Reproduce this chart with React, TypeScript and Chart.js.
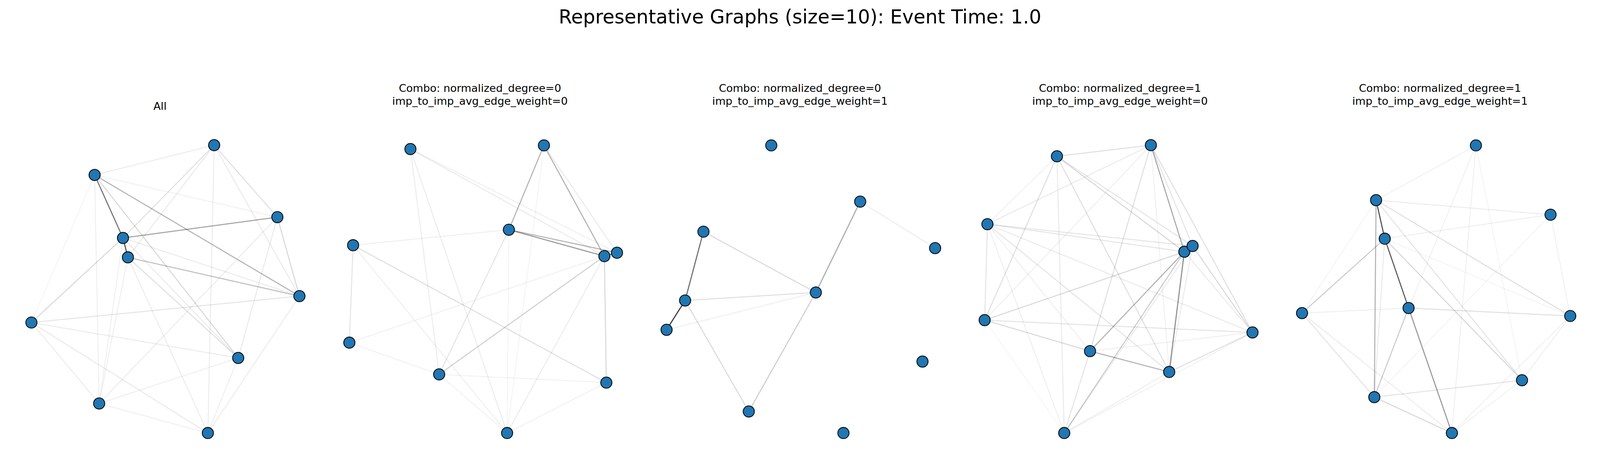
import { useRef, useEffect } from 'react';
import { Chart, registerables } from 'chart.js';

Chart.register(...registerables);

const suptitle = 'Representative Graphs (size=10): Event Time: 1.0';

const panelTitles = [
    ['All'],
    ['Combo: normalized_degree=0', 'imp_to_imp_avg_edge_weight=0'],
    ['Combo: normalized_degree=0', 'imp_to_imp_avg_edge_weight=1'],
    ['Combo: normalized_degree=1', 'imp_to_imp_avg_edge_weight=0'],
    ['Combo: normalized_degree=1', 'imp_to_imp_avg_edge_weight=1'],
];

// node positions (layout units), nodes A..J
const nodes1 = [[1055, 250], [448, 373], [1376, 547], [592, 633], [617, 713], [1488, 873], [127, 982], [1177, 1128], [471, 1316], [1023, 1438]];
const nodes2 = [[427, 266], [1105, 251], [927, 599], [136, 663], [1412, 708], [1476, 694], [117, 1065], [573, 1196], [1422, 1230], [918, 1438]];
const nodes3 = [[634, 251], [1085, 483], [290, 607], [1465, 675], [860, 858], [197, 891], [103, 1012], [1401, 1143], [520, 1349], [1000, 1438]];
const nodes4 = [[459, 296], [936, 250], [106, 576], [1106, 690], [1148, 666], [92, 972], [627, 1100], [1029, 1186], [1452, 1023], [496, 1438]];
const nodes5 = [[962, 251], [455, 477], [1341, 537], [499, 636], [620, 922], [79, 943], [1441, 955], [1196, 1220], [446, 1290], [840, 1438]];

// edges: [from, to, weight(alpha)]
const edges1: [string, string, number][] = [
    ['B', 'D', 0.55], ['D', 'E', 0.7], ['D', 'C', 0.35], ['B', 'F', 0.3], ['E', 'F', 0.25],
    ['A', 'B', 0.07], ['A', 'D', 0.12], ['A', 'E', 0.08], ['A', 'C', 0.12], ['A', 'F', 0.08],
    ['A', 'J', 0.07], ['D', 'G', 0.15], ['G', 'F', 0.1], ['G', 'H', 0.08], ['G', 'I', 0.07],
    ['G', 'J', 0.08], ['B', 'H', 0.15], ['E', 'H', 0.12], ['D', 'H', 0.08], ['B', 'I', 0.06],
    ['D', 'I', 0.06], ['E', 'I', 0.06], ['C', 'F', 0.15], ['C', 'I', 0.07], ['C', 'H', 0.08],
    ['F', 'J', 0.07], ['H', 'J', 0.06], ['I', 'J', 0.06], ['I', 'H', 0.06], ['E', 'J', 0.07],
    ['D', 'F', 0.07], ['B', 'C', 0.05], ['G', 'B', 0.04],
];
const edges2: [string, string, number][] = [
    ['C', 'E', 0.4], ['C', 'F', 0.3], ['B', 'C', 0.3], ['B', 'E', 0.3], ['B', 'F', 0.08],
    ['E', 'F', 0.6], ['E', 'H', 0.18], ['E', 'I', 0.15], ['C', 'H', 0.1], ['D', 'C', 0.06],
    ['D', 'I', 0.12], ['D', 'G', 0.1], ['D', 'J', 0.06], ['A', 'E', 0.08], ['A', 'F', 0.06],
    ['A', 'H', 0.07], ['A', 'J', 0.07], ['G', 'E', 0.05], ['G', 'H', 0.05], ['H', 'I', 0.05],
    ['H', 'J', 0.05], ['C', 'J', 0.04], ['E', 'J', 0.07], ['I', 'J', 0.05], ['B', 'J', 0.04],
];
const edges3: [string, string, number][] = [
    ['G', 'F', 0.8], ['F', 'C', 0.6], ['B', 'E', 0.35], ['C', 'E', 0.15], ['F', 'E', 0.12],
    ['G', 'E', 0.06], ['F', 'I', 0.15], ['E', 'I', 0.2], ['B', 'D', 0.07],
];
const edges4: [string, string, number][] = [
    ['D', 'H', 0.45], ['G', 'H', 0.3], ['D', 'G', 0.3], ['B', 'D', 0.35], ['A', 'B', 0.12],
    ['A', 'D', 0.15], ['A', 'E', 0.1], ['A', 'F', 0.12], ['A', 'H', 0.12], ['A', 'J', 0.08],
    ['A', 'C', 0.05], ['B', 'C', 0.08], ['B', 'F', 0.06], ['B', 'G', 0.12], ['B', 'I', 0.12],
    ['B', 'E', 0.1], ['C', 'D', 0.1], ['C', 'E', 0.1], ['C', 'F', 0.1], ['C', 'H', 0.1],
    ['C', 'I', 0.08], ['C', 'G', 0.06], ['C', 'J', 0.06], ['F', 'D', 0.15], ['F', 'G', 0.15],
    ['F', 'I', 0.1], ['F', 'J', 0.03], ['E', 'I', 0.15], ['D', 'J', 0.2], ['D', 'I', 0.08],
    ['E', 'J', 0.08], ['G', 'I', 0.06], ['H', 'I', 0.12], ['H', 'J', 0.06], ['J', 'I', 0.05],
    ['E', 'H', 0.08], ['G', 'J', 0.1], ['B', 'H', 0.05],
];
const edges5: [string, string, number][] = [
    ['B', 'D', 0.7], ['D', 'E', 0.65], ['E', 'J', 0.4], ['B', 'I', 0.3], ['D', 'F', 0.2],
    ['E', 'I', 0.2], ['E', 'G', 0.12], ['B', 'G', 0.12], ['D', 'H', 0.15], ['B', 'H', 0.1],
    ['I', 'H', 0.1], ['I', 'J', 0.15], ['F', 'I', 0.1], ['F', 'E', 0.06], ['F', 'J', 0.07],
    ['B', 'C', 0.07], ['D', 'C', 0.06], ['A', 'B', 0.05], ['A', 'E', 0.05], ['A', 'J', 0.05],
    ['A', 'H', 0.04], ['C', 'G', 0.05], ['G', 'H', 0.06], ['G', 'J', 0.05], ['C', 'I', 0.04],
    ['D', 'I', 0.08], ['F', 'B', 0.04], ['H', 'J', 0.05], ['D', 'G', 0.04],
];

const allNodes = [nodes1, nodes2, nodes3, nodes4, nodes5];
const allEdges = [edges1, edges2, edges3, edges4, edges5];
const labels = 'ABCDEFGHIJ';

const GraphPanel = ({ nodes, edges, s }: { nodes: number[][]; edges: [string, string, number][]; s: number }) => {
    const canvasRef = useRef<HTMLCanvasElement | null>(null);

    useEffect(() => {
        if (!canvasRef.current) return;
        const pt = (k: string) => {
            const n = nodes[labels.indexOf(k)];
            return { x: n[0], y: n[1] };
        };
        const datasets: any[] = [
            {
                data: nodes.map((n) => ({ x: n[0], y: n[1] })),
                pointRadius: 21 * s,
                pointBackgroundColor: '#1f77b4',
                pointBorderColor: '#000000',
                pointBorderWidth: 3 * s,
                showLine: false,
                clip: false,
                order: 0,
            },
            ...edges.map(([a, b, w]) => ({
                data: [pt(a), pt(b)],
                showLine: true,
                borderColor: `rgba(0,0,0,${w})`,
                borderWidth: 4 * s,
                pointRadius: 0,
                clip: false,
                order: 1,
            })),
        ];
        const chart = new Chart(canvasRef.current, {
            type: 'scatter',
            data: { datasets },
            options: {
                animation: false,
                responsive: true,
                maintainAspectRatio: false,
                layout: { padding: 0 },
                plugins: { legend: { display: false }, tooltip: { enabled: false } },
                scales: {
                    x: { display: false, min: 0, max: 1560 },
                    y: { display: false, min: 0, max: 1560, reverse: true },
                },
            },
        });
        return () => chart.destroy();
    }, [nodes, edges, s]);

    return <canvas ref={canvasRef} />;
};

export default function App() {
    useEffect(() => {
        document.body.style.margin = '0';
        document.body.style.overflow = 'hidden';
    }, []);
    const W = window.innerWidth || 6000;
    const H = window.innerHeight || 1200;
    const sx = W / 6000;
    const sy = H / 1200;
    const s = Math.min(sx, sy);
    const font = '"DejaVu Sans", sans-serif';
    return (
        <div style={{ position: 'relative', width: W, height: H, overflow: 'hidden', background: '#fff', fontFamily: font }}>
            <div style={{ position: 'absolute', top: 14 * sy, left: 0, width: W, textAlign: 'center', fontSize: 72 * s }}>
                {suptitle}
            </div>
            {allNodes.map((nodes, i) => (
                <div key={i}>
                    <div
                        style={{
                            position: 'absolute',
                            left: i * 1200 * sx,
                            top: (panelTitles[i].length === 1 ? 256 : 210) * sy,
                            width: 1200 * sx,
                            textAlign: 'center',
                            fontSize: 40 * s,
                            lineHeight: `${48 * s}px`,
                        }}
                    >
                        {panelTitles[i].map((t, j) => (
                            <div key={j}>{t}</div>
                        ))}
                    </div>
                    <div
                        style={{
                            position: 'absolute',
                            left: i * 1200 * sx,
                            top: 200 * sy,
                            width: 1200 * sx,
                            height: 1000 * sy,
                        }}
                    >
                        <GraphPanel nodes={nodes} edges={allEdges[i]} s={s} />
                    </div>
                </div>
            ))}
        </div>
    );
}
